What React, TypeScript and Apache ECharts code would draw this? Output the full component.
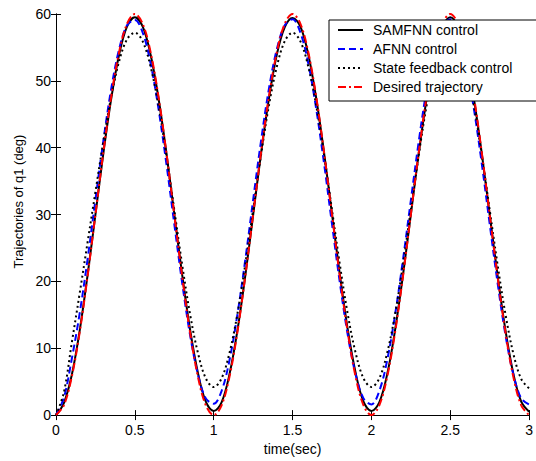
import React, { useEffect, useRef } from "react";
import * as echarts from "echarts";

const seriesNames = ["SAMFNN control", "AFNN control", "State feedback control", "Desired trajectory"];

// sample times (sec), 0 to 3 in 0.05 steps
const times: number[] = Array.from({ length: 61 }, (_, i) => Math.round(i * 5) / 100);

const samfnn = [
  0, 1.8, 6.0, 12.6, 20.9, 30.0, 39.1, 47.3, 53.9, 58.1, 59.5, 58.1, 53.9, 47.4, 39.2, 30.1, 21.0, 12.8, 6.3, 2.0, 0.6,
  1.9, 6.1, 12.6, 20.8, 29.9, 39.1, 47.3, 53.9, 58.0, 59.4, 58.1, 53.9, 47.4, 39.2, 30.1, 21.0, 12.8, 6.3, 2.0, 0.6,
  1.9, 6.1, 12.7, 20.9, 30.0, 39.1, 47.3, 53.8, 58.0, 59.5, 58.0, 53.8, 47.3, 39.1, 30.0, 20.9, 12.7, 6.2, 2.0, 0.5,
];

const afnn = [
  0, 2.6, 8.4, 15.2, 23.3, 32.2, 41.0, 48.8, 54.7, 58.3, 59.1, 57.2, 52.6, 45.8, 37.6, 28.6, 19.8, 12.0, 6.1, 2.5, 1.7,
  3.6, 8.2, 15.0, 23.2, 32.2, 41.0, 48.8, 54.7, 58.3, 59.2, 57.2, 52.6, 45.8, 37.6, 28.6, 19.8, 12.0, 6.1, 2.5, 1.6,
  3.6, 8.2, 15.0, 23.2, 32.1, 40.9, 48.7, 54.7, 58.3, 59.2, 57.2, 52.6, 45.8, 37.6, 28.6, 19.8, 12.0, 6.1, 2.5, 1.6,
];

const stateFeedback = [
  0, 3.4, 10.8, 18.2, 25.8, 33.4, 40.9, 47.6, 52.9, 56.2, 57.2, 55.9, 52.1, 46.3, 38.9, 30.7, 22.5, 15.1, 9.3, 5.5, 4.2,
  5.5, 9.3, 15.1, 22.5, 30.7, 38.9, 46.3, 52.1, 55.9, 57.2, 55.9, 52.1, 46.3, 38.9, 30.7, 22.5, 15.1, 9.3, 5.5, 4.2,
  5.5, 9.3, 15.1, 22.5, 30.7, 38.9, 46.3, 52.1, 55.9, 57.2, 55.9, 52.1, 46.3, 38.9, 30.7, 22.5, 15.1, 9.2, 5.4, 4.0,
];

const desired = [
  0, 1.47, 5.73, 12.37, 20.73, 30, 39.27, 47.63, 54.27, 58.53, 60, 58.53, 54.27, 47.63, 39.27, 30, 20.73, 12.37, 5.73, 1.47, 0,
  1.47, 5.73, 12.37, 20.73, 30, 39.27, 47.63, 54.27, 58.53, 60, 58.53, 54.27, 47.63, 39.27, 30, 20.73, 12.37, 5.73, 1.47, 0,
  1.47, 5.73, 12.37, 20.73, 30, 39.27, 47.63, 54.27, 58.53, 60, 58.53, 54.27, 47.63, 39.27, 30, 20.73, 12.37, 5.73, 1.47, 0,
];

const xMin = 0, xMax = 3, xStep = 0.5;
const yMin = 0, yMax = 60, yStep = 10;

const FONT = "'Liberation Sans', Arial, sans-serif";

function pairs(vals: number[]) {
  return vals.map((v, i) => [times[i], v]);
}

export default function App() {
  const ref = useRef<HTMLDivElement>(null);
  useEffect(() => {
    if (!ref.current) return;
    const chart = echarts.init(ref.current, null, { renderer: "svg" });
    const axisLine = { show: true, lineStyle: { color: "#000", width: 1 } };
    const tick = { show: true, inside: true, length: 5, lineStyle: { color: "#000" } };
    const lineColors = ["#000000", "#0000ff", "#000000", "#ff0000"];
    const lineTypes: any[] = ["solid", [7, 4], [2, 3], [8, 3, 2, 3]];
    const vals = [samfnn, afnn, stateFeedback, desired];
    chart.setOption({
      animation: false,
      backgroundColor: "#fff",
      grid: { left: 56, right: 4, top: 14, bottom: 45, containLabel: false },
      legend: {
        orient: "vertical",
        left: 329,
        top: 20,
        z: 10,
        padding: [3, 26, 7, 8],
        itemWidth: 25,
        itemHeight: 14,
        itemGap: 5,
        backgroundColor: "#fff",
        borderColor: "#000",
        borderWidth: 1,
        borderRadius: 0,
        itemStyle: { color: "rgba(0,0,0,0)", borderColor: "rgba(0,0,0,0)", borderWidth: 0, opacity: 0 },
        textStyle: { fontFamily: FONT, fontSize: 14, color: "#000", padding: [0, 0, 0, 5] },
        data: seriesNames,
      },
      xAxis: [
        {
          type: "value", min: xMin, max: xMax, interval: xStep, position: "bottom",
          name: "time(sec)", nameLocation: "middle", nameGap: 26,
          nameTextStyle: { fontFamily: FONT, fontSize: 14, color: "#000" },
          axisLine, axisTick: tick, splitLine: { show: false },
          axisLabel: { fontFamily: FONT, fontSize: 14, color: "#000", margin: 8 },
        },
        {
          type: "value", min: xMin, max: xMax, interval: xStep, position: "top",
          axisLine, axisTick: tick, splitLine: { show: false }, axisLabel: { show: false },
        },
      ],
      yAxis: [
        {
          type: "value", min: yMin, max: yMax, interval: yStep, position: "left",
          name: "Trajectories of q1 (deg)", nameLocation: "middle", nameGap: 30,
          nameTextStyle: { fontFamily: FONT, fontSize: 13, color: "#000", padding: [0, 0, 0, 26] },
          axisLine, axisTick: tick, splitLine: { show: false },
          axisLabel: { fontFamily: FONT, fontSize: 14, color: "#000", margin: 5 },
        },
        {
          type: "value", min: yMin, max: yMax, interval: yStep, position: "right",
          axisLine, axisTick: tick, splitLine: { show: false }, axisLabel: { show: false },
        },
      ],
      series: seriesNames.map((name, i) => ({
        name,
        type: "line",
        xAxisIndex: 0,
        yAxisIndex: 0,
        data: pairs(vals[i]),
        smooth: 0.35,
        symbol: "none",
        showSymbol: false,
        itemStyle: { color: lineColors[i] },
        lineStyle: { color: lineColors[i], width: 2, type: lineTypes[i] },
        z: 2,
      })),
    });
    return () => chart.dispose();
  }, []);
  return (
    <div
      ref={ref}
      style={{ position: "absolute", left: 0, top: 0, width: 536, height: 461, background: "#fff" }}
    />
  );
}
